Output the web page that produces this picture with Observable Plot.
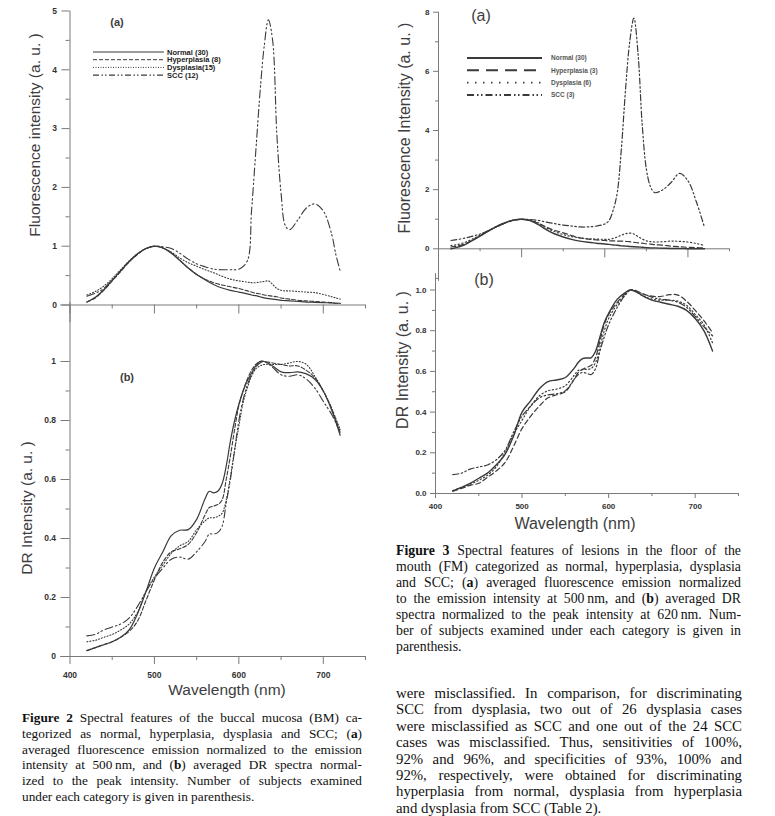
<!DOCTYPE html>
<html>
<head>
<meta charset="utf-8">
<script src="https://cdn.jsdelivr.net/npm/d3@7"></script>
<script src="https://cdn.jsdelivr.net/npm/@observablehq/plot@0.6"></script>
<style>
body{margin:0;background:#fff;}
#page{position:relative;width:775px;height:816px;overflow:hidden;background:#fff;font-family:"Liberation Sans",Arial,sans-serif;}
.plotbox{position:absolute;}
.plotbox svg{overflow:visible;background:transparent;}
.plotbox text{font-family:"Liberation Sans",Arial,sans-serif;font-weight:bold;}
.lab{position:absolute;white-space:nowrap;color:#3d3d3d;transform:translate(-50%,-50%);line-height:1;}
.rot{transform:translate(-50%,-50%) rotate(-90deg);}
.cap{position:absolute;font-family:"Liberation Serif","Times New Roman",serif;color:#111;}
.cap div{text-align:justify;text-align-last:justify;}
.cap div.last{text-align-last:left;}
.legend{position:absolute;overflow:visible;}
</style>
</head>
<body>
<div id="page"></div>
<script>
// ---------------- DATA ----------------
// Figure 2 (buccal mucosa)
const categories2 = ["Normal (30)", "Hyperplasia (8)", "Dysplasia(15)", "SCC (12)"];
// (a) fluorescence, normalized at 500 nm
const wl2a = [420,430,440,450,460,470,480,490,500,510,520,530,540,550,560,570,580,590,600,610,615,620,625,630,635,640,645,650,655,660,670,680,690,700,710,715,720];
const f2aNormal = [0.05,0.13,0.26,0.42,0.58,0.74,0.87,0.96,1.0,0.97,0.88,0.76,0.63,0.52,0.43,0.35,0.29,0.25,0.22,0.19,0.17,0.16,0.14,0.12,0.11,0.1,0.09,0.08,0.075,0.07,0.06,0.05,0.045,0.04,0.035,0.03,0.03];
const f2aHyper  = [0.05,0.12,0.25,0.41,0.57,0.73,0.86,0.96,1.0,0.97,0.89,0.76,0.63,0.52,0.44,0.38,0.34,0.31,0.28,0.24,0.22,0.2,0.19,0.17,0.16,0.15,0.14,0.12,0.11,0.1,0.08,0.07,0.06,0.05,0.04,0.03,0.03];
const f2aDysp   = [0.17,0.23,0.32,0.45,0.6,0.75,0.87,0.96,1.0,0.97,0.9,0.8,0.72,0.66,0.6,0.55,0.49,0.44,0.41,0.39,0.38,0.38,0.39,0.4,0.41,0.35,0.28,0.25,0.24,0.24,0.23,0.22,0.21,0.18,0.14,0.12,0.1];
const f2aSCC    = [0.15,0.2,0.28,0.42,0.58,0.74,0.87,0.96,1.0,0.99,0.96,0.88,0.78,0.7,0.65,0.61,0.6,0.6,0.61,0.75,1.6,2.6,3.6,4.4,4.85,4.5,2.9,1.9,1.35,1.28,1.45,1.65,1.72,1.6,1.2,0.85,0.58];
// (b) diffuse reflectance, normalized to peak
const wl2b = [420,430,440,450,460,470,480,490,500,510,520,530,540,550,560,565,570,575,580,585,590,595,600,605,610,615,620,625,630,640,650,660,670,680,690,700,710,720];
const d2bNormal = [0.02,0.03,0.04,0.05,0.065,0.09,0.145,0.22,0.3,0.355,0.41,0.428,0.43,0.465,0.535,0.56,0.555,0.56,0.585,0.645,0.73,0.8,0.855,0.9,0.935,0.96,0.985,1.0,1.0,0.985,0.965,0.962,0.965,0.958,0.94,0.9,0.835,0.75];
const d2bHyper  = [0.02,0.03,0.04,0.05,0.065,0.085,0.12,0.19,0.26,0.32,0.355,0.365,0.38,0.42,0.48,0.505,0.51,0.515,0.53,0.6,0.68,0.77,0.85,0.9,0.94,0.97,0.99,1.0,1.0,0.995,0.99,0.985,0.985,0.97,0.945,0.9,0.84,0.76];
const d2bDysp   = [0.05,0.055,0.065,0.075,0.09,0.11,0.15,0.22,0.27,0.31,0.35,0.375,0.39,0.43,0.46,0.47,0.47,0.475,0.485,0.53,0.61,0.7,0.78,0.86,0.91,0.95,0.975,0.985,0.99,0.99,0.99,0.995,1.0,0.99,0.95,0.9,0.84,0.77];
const d2bSCC    = [0.07,0.075,0.09,0.1,0.11,0.13,0.17,0.22,0.265,0.3,0.33,0.337,0.33,0.355,0.39,0.415,0.415,0.42,0.44,0.52,0.6,0.7,0.8,0.87,0.92,0.955,0.98,0.995,1.0,0.98,0.955,0.95,0.955,0.94,0.91,0.865,0.82,0.76];

// Figure 3 (floor of the mouth)
const categories3 = ["Normal (30)", "Hyperplasia (3)", "Dysplasia (6)", "SCC (3)"];
const wl3a = [415,420,430,440,450,460,470,480,490,500,510,520,530,540,550,560,570,580,590,600,605,610,615,620,625,630,635,640,645,650,655,660,670,680,690,700,710,720];
const f3aNormal = [0.0,0.03,0.12,0.27,0.43,0.6,0.76,0.88,0.97,1.0,0.95,0.82,0.64,0.5,0.4,0.32,0.26,0.22,0.19,0.16,0.15,0.13,0.12,0.1,0.09,0.08,0.07,0.06,0.05,0.04,0.03,0.03,0.02,0.01,0.01,0.0,0.0,0.0];
const f3aHyper  = [0.06,0.08,0.15,0.28,0.44,0.6,0.75,0.87,0.96,1.0,0.96,0.86,0.73,0.62,0.54,0.45,0.37,0.33,0.3,0.28,0.27,0.27,0.26,0.26,0.25,0.24,0.22,0.2,0.19,0.17,0.16,0.14,0.12,0.09,0.07,0.05,0.04,0.03];
const f3aDysp   = [0.11,0.13,0.2,0.32,0.46,0.61,0.76,0.88,0.97,1.0,0.97,0.88,0.7,0.58,0.48,0.41,0.37,0.34,0.33,0.32,0.32,0.35,0.4,0.46,0.51,0.53,0.5,0.41,0.33,0.27,0.24,0.23,0.24,0.26,0.25,0.23,0.18,0.11];
const f3aSCC    = [0.28,0.3,0.35,0.42,0.5,0.62,0.74,0.87,0.96,1.0,0.99,0.96,0.9,0.85,0.8,0.77,0.74,0.74,0.77,0.84,0.95,1.3,1.9,3.4,5.4,7.0,7.8,6.6,4.2,2.7,2.1,1.9,2.0,2.25,2.55,2.3,1.6,0.72];
const wl3b = [420,430,440,450,460,470,480,490,500,510,520,530,540,550,560,565,570,575,580,585,590,595,600,610,620,625,630,640,650,660,670,680,690,700,710,720];
const d3bNormal = [0.012,0.03,0.05,0.075,0.1,0.14,0.19,0.28,0.4,0.456,0.515,0.55,0.558,0.57,0.615,0.645,0.663,0.666,0.668,0.7,0.77,0.84,0.885,0.955,0.99,1.0,0.995,0.97,0.95,0.94,0.93,0.92,0.9,0.86,0.8,0.7];
const d3bHyper  = [0.012,0.025,0.04,0.05,0.08,0.11,0.15,0.23,0.32,0.38,0.43,0.47,0.485,0.5,0.56,0.595,0.61,0.62,0.63,0.67,0.75,0.83,0.88,0.94,0.985,1.0,1.0,0.98,0.97,0.968,0.977,0.975,0.945,0.9,0.85,0.79];
const d3bDysp   = [0.015,0.03,0.045,0.065,0.09,0.13,0.2,0.29,0.36,0.43,0.48,0.505,0.513,0.53,0.58,0.605,0.61,0.61,0.615,0.645,0.72,0.8,0.86,0.93,0.98,1.0,0.995,0.97,0.955,0.95,0.95,0.945,0.925,0.88,0.83,0.74];
const d3bSCC    = [0.093,0.1,0.12,0.13,0.14,0.165,0.21,0.3,0.38,0.43,0.47,0.485,0.49,0.505,0.56,0.585,0.595,0.59,0.585,0.615,0.7,0.77,0.83,0.915,0.98,1.0,0.995,0.98,0.965,0.955,0.95,0.94,0.915,0.87,0.82,0.775];

// Tick values
const xMajor = [400,500,600,700];
const xMinor = [450,550,650,750];
const y2aMajor = [0,1,2,3,4,5];
const y2aMinor = [0.5,1.5,2.5,3.5,4.5];
const y2bMajor = [0,0.2,0.4,0.6,0.8,1];
const y2bMinor = [0.1,0.3,0.5,0.7,0.9];
const y3aMajor = [0,2,4,6,8];
const y3aMinor = [-1,1,3,5,7];
const y3bMajor = [0,0.2,0.4,0.6,0.8,1.0];
const y3bMinor = [0.1,0.3,0.5,0.7,0.9];

// ---------------- STYLES ----------------
const AX = "#7a7a7a", TXT = "#333", LINE = "#3a3a3a";
const style2 = [
  {w:1.2, dash:null},
  {w:1.1, dash:"4,2"},
  {w:1.1, dash:"1,2"},
  {w:1.1, dash:"8,3,1.5,2.5,1.5,3"}
];
const style3 = [
  {w:1.4, dash:null},
  {w:1.2, dash:"5,3"},
  {w:1.2, dash:"1.2,2.5"},
  {w:1.2, dash:"6,2.5,1.5,2.5,1.5,2.5"}
];

const page = document.getElementById("page");

function rows(grid, vals){ return grid.map((x,i)=>({x, y: vals[i]})); }

function panel(c){
  const marks = [
    Plot.ruleX([400], {y1: c.ay1, y2: c.ay2, stroke: AX}),
    Plot.ruleY([0], {x1: c.ax1, x2: 750, stroke: AX}),
    Plot.axisY({ticks: c.yMajor, tickSize: c.yMajSize, tickPadding: c.yPad, tickFormat: c.yFmt, stroke: AX, fill: TXT, fontSize: c.fs, label: null}),
    Plot.axisY({ticks: c.yMinor, tickSize: c.yMinSize, fill: "none", stroke: AX, label: null}),
    Plot.axisX({ticks: xMajor, tickSize: c.xMajSize, tickPadding: c.xPad, tickFormat: d => String(d), stroke: AX, fill: c.xLabels ? TXT : "none", fontSize: c.fs, label: null}),
    Plot.axisX({ticks: xMinor, tickSize: c.xMinSize, fill: "none", stroke: AX, label: null})
  ];
  c.series.forEach((vals, i) => {
    const s = c.styles[i];
    marks.push(Plot.line(rows(c.grid, vals), {x: "x", y: "y", stroke: LINE, strokeWidth: s.w, strokeDasharray: s.dash, curve: "catmull-rom"}));
  });
  const svg = Plot.plot({
    width: c.width, height: c.height,
    marginLeft: c.ml, marginRight: c.mr, marginTop: c.mt, marginBottom: c.mb,
    x: {domain: [400, 750], axis: null, label: null},
    y: {domain: c.yDomain, axis: null, label: null},
    style: {background: "transparent", overflow: "visible", fontFamily: "Liberation Sans, Arial, sans-serif"},
    marks
  });
  const box = document.createElement("div");
  box.className = "plotbox";
  box.style.left = c.left + "px"; box.style.top = c.top + "px";
  box.style.width = c.width + "px"; box.style.height = c.height + "px";
  box.appendChild(svg);
  page.appendChild(box);
}

// Figure 2 (a)
panel({left:0, top:0, width:380, height:330, ml:69.5, mr:15, mt:10.5, mb:25.5,
  yDomain:[0,5], ay1:-0.3, ay2:5, ax1:389,
  yMajor:y2aMajor, yMinor:y2aMinor, yMajSize:8, yMinSize:4, yPad:5, yFmt:d=>String(d),
  xMajSize:9, xMinSize:4, xPad:6, xLabels:false, fs:8.5,
  grid:wl2a, series:[f2aNormal,f2aHyper,f2aDysp,f2aSCC], styles:style2});
// Figure 2 (b)
panel({left:0, top:300, width:380, height:400, ml:69.5, mr:15, mt:61, mb:44,
  yDomain:[0,1], ay1:0, ay2:1.2, ax1:389,
  yMajor:y2bMajor, yMinor:y2bMinor, yMajSize:9, yMinSize:4, yPad:5, yFmt:d=>String(d),
  xMajSize:8, xMinSize:4, xPad:7, xLabels:true, fs:8.5,
  grid:wl2b, series:[d2bNormal,d2bHyper,d2bDysp,d2bSCC], styles:style2});
// Figure 3 (a)
panel({left:390, top:0, width:385, height:280, ml:48, mr:46, mt:11.7, mb:31.7,
  yDomain:[0,8], ay1:-1.1, ay2:8, ax1:400,
  yMajor:y3aMajor, yMinor:y3aMinor, yMajSize:5, yMinSize:3, yPad:4, yFmt:d=>String(d),
  xMajSize:9, xMinSize:3, xPad:6, xLabels:false, fs:8,
  grid:wl3a, series:[f3aNormal,f3aHyper,f3aDysp,f3aSCC], styles:style3});
// Figure 3 (b)
panel({left:390, top:270, width:385, height:270, ml:45, mr:37, mt:19.5, mb:47,
  yDomain:[0,1], ay1:0, ay2:1.08, ax1:400,
  yMajor:y3bMajor, yMinor:y3bMinor, yMajSize:5, yMinSize:3, yPad:4, yFmt:d3.format(".1f"),
  xMajSize:5, xMinSize:3, xPad:5, xLabels:true, fs:8,
  grid:wl3b, series:[d3bNormal,d3bHyper,d3bDysp,d3bSCC], styles:style3});

// ---------------- LEGENDS ----------------
function legend(c){
  const svg = d3.create("svg").attr("class","legend")
    .attr("width", c.width).attr("height", c.height)
    .style("left", c.left + "px").style("top", c.top + "px");
  c.labels.forEach((lab, i) => {
    const y = c.y0 + i * c.dy;
    svg.append("line").attr("x1", c.x1).attr("x2", c.x2).attr("y1", y).attr("y2", y)
      .attr("stroke", LINE).attr("stroke-width", c.styles[i].w)
      .attr("stroke-dasharray", c.styles[i].dash);
    svg.append("text").attr("x", c.tx).attr("y", y).attr("dy", "0.35em")
      .attr("font-family", "Liberation Sans, Arial, sans-serif").attr("font-weight", "bold")
      .attr("font-size", c.fs).attr("fill", c.color).text(lab);
  });
  page.appendChild(svg.node());
}
legend({left:90, top:45, width:140, height:40, x1:3, x2:74, tx:77, y0:7, dy:7.7, fs:7.5, color:"#222",
  labels:categories2, styles:[{w:1.1,dash:null},{w:1,dash:"4,2"},{w:1,dash:"1,1.5"},{w:1.1,dash:"6,2.5,1.5,2,1.5,2.5"}]});
legend({left:462, top:50, width:150, height:55, x1:5, x2:80, tx:89, y0:8, dy:12.3, fs:6.5, color:"#555",
  labels:categories3, styles:[{w:2,dash:null},{w:2,dash:"12,7"},{w:1.8,dash:"1.5,6.5"},{w:2,dash:"7,3,1.5,2.5,1.5,3"}]});

// ---------------- LABELS ----------------
function lab(text, x, y, size, extra){
  const d = document.createElement("div");
  d.className = "lab" + (extra && extra.rot ? " rot" : "");
  d.style.left = x + "px"; d.style.top = y + "px"; d.style.fontSize = size + "px";
  if (extra && extra.bold) d.style.fontWeight = "bold";
  d.textContent = text;
  page.appendChild(d);
}
lab("Fluorescence intensity (a. u. )", 35, 135, 15.5, {rot:true});
lab("DR Intensity (a. u. )", 27, 508, 15.5, {rot:true});
lab("Wavelength (nm)", 227, 690, 15.5);
lab("(a)", 117, 22, 11, {bold:true});
lab("(b)", 127, 377, 11, {bold:true});
lab("Fluorescence Intensity (a. u. )", 405, 128, 16, {rot:true});
lab("DR Intensity (a. u. )", 403, 360, 16, {rot:true});
lab("Wavelength (nm)", 575, 524, 16);
lab("(a)", 481, 16, 16);
lab("(b)", 484, 280, 16);

// ---------------- CAPTIONS ----------------
const cap2 = [
  "<b>Figure 2</b> Spectral features of the buccal mucosa (BM) ca-",
  "tegorized as normal, hyperplasia, dysplasia and SCC; (<b>a</b>)",
  "averaged fluorescence emission normalized to the emission",
  "intensity at 500&#8239;nm, and (<b>b</b>) averaged DR spectra normal-",
  "ized to the peak intensity. Number of subjects examined",
  "under each category is given in parenthesis."
];
const cap3 = [
  "<b>Figure 3</b> Spectral features of lesions in the floor of the",
  "mouth (FM) categorized as normal, hyperplasia, dysplasia",
  "and SCC; (<b>a</b>) averaged fluorescence emission normalized",
  "to the emission intensity at 500&#8239;nm, and (<b>b</b>) averaged DR",
  "spectra normalized to the peak intensity at 620&#8239;nm. Num-",
  "ber of subjects examined under each category is given in",
  "parenthesis."
];
const body3 = [
  "were misclassified. In comparison, for discriminating",
  "SCC from dysplasia, two out of 26 dysplasia cases",
  "were misclassified as SCC and one out of the 24 SCC",
  "cases was misclassified. Thus, sensitivities of 100%,",
  "92% and 96%, and specificities of 93%, 100% and",
  "92%, respectively, were obtained for discriminating",
  "hyperplasia from normal, dysplasia from hyperplasia",
  "and dysplasia from SCC (Table 2)."
];
function block(lines, left, top, width, size, lh){
  const d = document.createElement("div");
  d.className = "cap";
  d.style.left = left + "px"; d.style.top = top + "px"; d.style.width = width + "px";
  d.style.fontSize = size + "px"; d.style.lineHeight = lh + "px";
  page.appendChild(d);
  lines.forEach((l, i) => {
    const r = document.createElement("div");
    if (i === lines.length - 1) r.className = "last";
    r.innerHTML = l;
    r.style.height = lh + "px";
    d.appendChild(r);
    // shrink a line slightly if it would wrap
    let fs = size;
    r.style.height = "auto";
    while (r.offsetHeight > lh * 1.5 && fs > size - 2) {
      fs -= 0.1;
      r.style.fontSize = fs + "px";
    }
    r.style.height = lh + "px";
  });
}
block(cap2, 22, 710, 340, 13.3, 15.8);
block(cap3, 396, 543, 345, 13.8, 16);
block(body3, 396, 685, 346, 14.8, 16.4);
</script>
</body>
</html>
